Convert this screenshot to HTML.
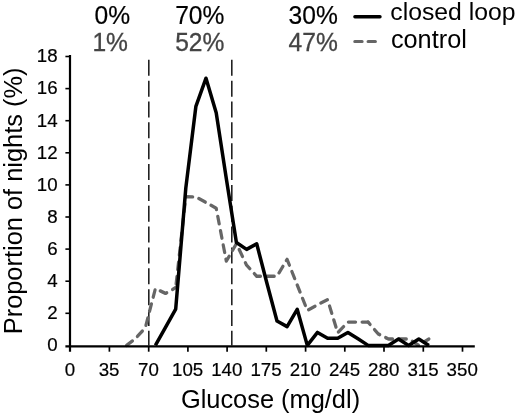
<!DOCTYPE html>
<html><head><meta charset="utf-8"><title>Glucose distribution</title>
<style>
html,body{margin:0;padding:0;background:#fff;}
body{width:520px;height:416px;overflow:hidden;position:relative;}
svg text{font-family:"Liberation Sans",Arial,Helvetica,sans-serif;}
</style></head><body>
<svg width="520" height="416" viewBox="0 0 520 416" style="position:absolute;left:0;top:0">
<rect width="520" height="416" fill="#fff"/>
<line x1="148.8" y1="59.8" x2="148.8" y2="345.5" stroke="#222" stroke-width="1.6" stroke-dasharray="16 4.85"/>
<line x1="231.8" y1="59.8" x2="231.8" y2="345.5" stroke="#222" stroke-width="1.6" stroke-dasharray="16 4.85"/>
<g transform="scale(1,1.06)" fill="none" stroke="#666" stroke-width="3.2" stroke-linecap="round" stroke-linejoin="round" stroke-dasharray="7.2 6.55"><polyline points="126.6,325.85 135.1,319.79 145.3,309.19 155.4,272.25 165.5,276.79 175.7,271.34" stroke-dashoffset="0.00"/><polyline points="175.7,271.34 185.8,185.64 195.9,185.79 206.0,191.09 216.2,196.39 226.3,246.36 236.4,229.85 246.6,250.14 256.7,260.59 266.8,260.59 277.0,260.59 287.1,244.69 297.2,268.77 307.3,292.84 317.5,287.54 327.6,282.70 337.7,313.89 347.9,303.89 358.0,303.89 368.1,303.89" stroke-dashoffset="10.29"/><polyline points="368.1,303.89 378.2,314.95 388.4,319.79 398.5,319.79 408.6,319.79 418.8,325.85 428.9,319.79" stroke-dashoffset="4.26"/></g>
<polyline points="155.4,345.4 165.5,327.4 175.7,309.1 185.8,188.1 195.9,106.3 206.0,78.2 216.2,112.7 226.3,178.5 236.4,242.5 246.6,249.4 256.7,243.8 266.8,282.8 277.0,321.0 287.1,326.6 297.2,309.3 307.3,345.4 317.5,332.4 327.6,338.2 337.7,338.2 347.9,332.4 358.0,338.8 368.1,345.4 378.2,345.4 388.4,345.4 398.5,339.0 408.6,345.4 418.8,339.0 428.9,345.4" fill="none" stroke="#000" stroke-width="3.5" stroke-linejoin="round"/>
<line x1="70" y1="55" x2="70" y2="351.7" stroke="#000" stroke-width="2.2"/>
<line x1="65.4" y1="346.45" x2="474.8" y2="346.45" stroke="#000" stroke-width="2.3"/>
<text x="57.6" y="351.2" text-anchor="end" font-size="18.7" fill="#000" stroke="#000" stroke-width="0.2">0</text>
<line x1="65.4" y1="313.3" x2="70" y2="313.3" stroke="#000" stroke-width="1.6"/>
<text x="57.6" y="319.1" text-anchor="end" font-size="18.7" fill="#000" stroke="#000" stroke-width="0.2">2</text>
<line x1="65.4" y1="281.2" x2="70" y2="281.2" stroke="#000" stroke-width="1.6"/>
<text x="57.6" y="287.0" text-anchor="end" font-size="18.7" fill="#000" stroke="#000" stroke-width="0.2">4</text>
<line x1="65.4" y1="249.1" x2="70" y2="249.1" stroke="#000" stroke-width="1.6"/>
<text x="57.6" y="254.9" text-anchor="end" font-size="18.7" fill="#000" stroke="#000" stroke-width="0.2">6</text>
<line x1="65.4" y1="217.0" x2="70" y2="217.0" stroke="#000" stroke-width="1.6"/>
<text x="57.6" y="222.8" text-anchor="end" font-size="18.7" fill="#000" stroke="#000" stroke-width="0.2">8</text>
<line x1="65.4" y1="184.9" x2="70" y2="184.9" stroke="#000" stroke-width="1.6"/>
<text x="57.6" y="190.7" text-anchor="end" font-size="18.7" fill="#000" stroke="#000" stroke-width="0.2">10</text>
<line x1="65.4" y1="152.8" x2="70" y2="152.8" stroke="#000" stroke-width="1.6"/>
<text x="57.6" y="158.6" text-anchor="end" font-size="18.7" fill="#000" stroke="#000" stroke-width="0.2">12</text>
<line x1="65.4" y1="120.7" x2="70" y2="120.7" stroke="#000" stroke-width="1.6"/>
<text x="57.6" y="126.5" text-anchor="end" font-size="18.7" fill="#000" stroke="#000" stroke-width="0.2">14</text>
<line x1="65.4" y1="88.6" x2="70" y2="88.6" stroke="#000" stroke-width="1.6"/>
<text x="57.6" y="94.4" text-anchor="end" font-size="18.7" fill="#000" stroke="#000" stroke-width="0.2">16</text>
<line x1="65.4" y1="56.5" x2="70" y2="56.5" stroke="#000" stroke-width="1.6"/>
<text x="57.6" y="62.3" text-anchor="end" font-size="18.7" fill="#000" stroke="#000" stroke-width="0.2">18</text>
<text x="69.9" y="376.2" text-anchor="middle" font-size="18.7" fill="#000" stroke="#000" stroke-width="0.2">0</text>
<line x1="109.4" y1="346" x2="109.4" y2="351.7" stroke="#000" stroke-width="1.7"/>
<text x="109.1" y="376.2" text-anchor="middle" font-size="18.7" fill="#000" stroke="#000" stroke-width="0.2">35</text>
<line x1="148.7" y1="346" x2="148.7" y2="351.7" stroke="#000" stroke-width="1.7"/>
<text x="148.4" y="376.2" text-anchor="middle" font-size="18.7" fill="#000" stroke="#000" stroke-width="0.2">70</text>
<line x1="187.9" y1="346" x2="187.9" y2="351.7" stroke="#000" stroke-width="1.7"/>
<text x="187.6" y="376.2" text-anchor="middle" font-size="18.7" fill="#000" stroke="#000" stroke-width="0.2">105</text>
<line x1="227.1" y1="346" x2="227.1" y2="351.7" stroke="#000" stroke-width="1.7"/>
<text x="226.8" y="376.2" text-anchor="middle" font-size="18.7" fill="#000" stroke="#000" stroke-width="0.2">140</text>
<line x1="266.3" y1="346" x2="266.3" y2="351.7" stroke="#000" stroke-width="1.7"/>
<text x="266.0" y="376.2" text-anchor="middle" font-size="18.7" fill="#000" stroke="#000" stroke-width="0.2">175</text>
<line x1="305.6" y1="346" x2="305.6" y2="351.7" stroke="#000" stroke-width="1.7"/>
<text x="305.3" y="376.2" text-anchor="middle" font-size="18.7" fill="#000" stroke="#000" stroke-width="0.2">210</text>
<line x1="344.8" y1="346" x2="344.8" y2="351.7" stroke="#000" stroke-width="1.7"/>
<text x="344.5" y="376.2" text-anchor="middle" font-size="18.7" fill="#000" stroke="#000" stroke-width="0.2">245</text>
<line x1="384.0" y1="346" x2="384.0" y2="351.7" stroke="#000" stroke-width="1.7"/>
<text x="383.7" y="376.2" text-anchor="middle" font-size="18.7" fill="#000" stroke="#000" stroke-width="0.2">280</text>
<line x1="423.3" y1="346" x2="423.3" y2="351.7" stroke="#000" stroke-width="1.7"/>
<text x="423.0" y="376.2" text-anchor="middle" font-size="18.7" fill="#000" stroke="#000" stroke-width="0.2">315</text>
<line x1="462.5" y1="346" x2="462.5" y2="351.7" stroke="#000" stroke-width="1.7"/>
<text x="462.2" y="376.2" text-anchor="middle" font-size="18.7" fill="#000" stroke="#000" stroke-width="0.2">350</text>
<text x="270.5" y="407.5" text-anchor="middle" font-size="25.4" fill="#000">Glucose (mg/dl)</text>
<text transform="translate(21.8,200.9) rotate(-90)" text-anchor="middle" font-size="25.4" fill="#000">Proportion of nights (%)</text>
<text transform="translate(112.3,23.6) scale(1,1.05)" text-anchor="middle" font-size="24.6" fill="#000" stroke="#000" stroke-width="0.2">0%</text>
<text transform="translate(110.2,50.9) scale(1,1.05)" text-anchor="middle" font-size="24.6" fill="#444" stroke="#444" stroke-width="0.3">1%</text>
<text transform="translate(199.8,23.6) scale(1,1.05)" text-anchor="middle" font-size="24.6" fill="#000" stroke="#000" stroke-width="0.2">70%</text>
<text transform="translate(199.8,50.9) scale(1,1.05)" text-anchor="middle" font-size="24.6" fill="#444" stroke="#444" stroke-width="0.3">52%</text>
<text transform="translate(313.2,23.6) scale(1,1.05)" text-anchor="middle" font-size="24.6" fill="#000" stroke="#000" stroke-width="0.2">30%</text>
<text transform="translate(313.2,50.9) scale(1,1.05)" text-anchor="middle" font-size="24.6" fill="#444" stroke="#444" stroke-width="0.3">47%</text>
<line x1="354.9" y1="16.8" x2="380" y2="16.8" stroke="#000" stroke-width="3.4" stroke-linecap="round"/>
<line x1="354.8" y1="41.5" x2="375.4" y2="41.5" stroke="#666" stroke-width="3.1" stroke-dasharray="7.3 6" stroke-linecap="round"/>
<text x="390.3" y="20.2" font-size="24.75" fill="#000">closed loop</text>
<text x="390.9" y="48" font-size="25.3" fill="#000">control</text>
</svg>
</body></html>
